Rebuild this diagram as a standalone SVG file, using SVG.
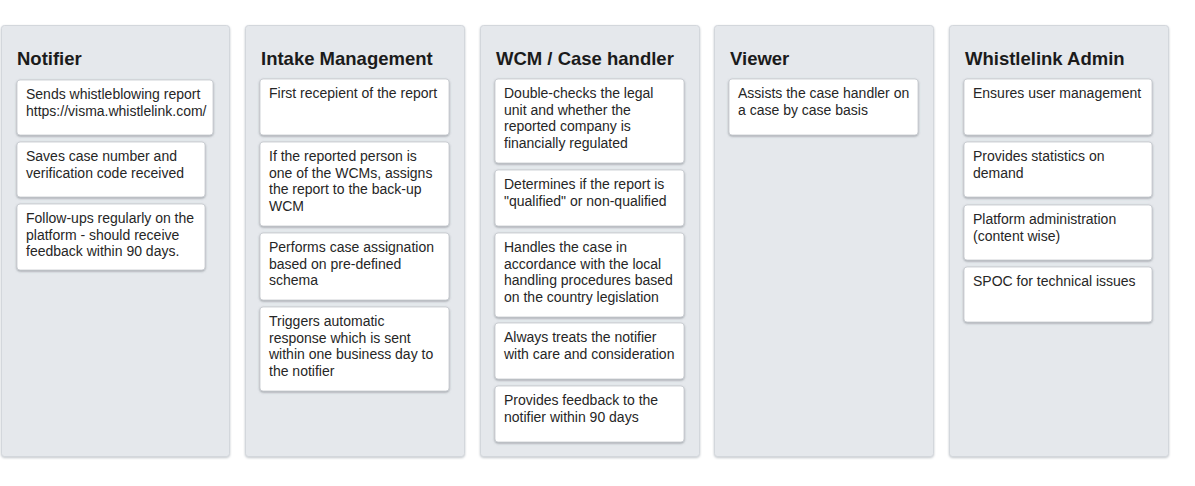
<svg xmlns="http://www.w3.org/2000/svg" width="1195" height="486" viewBox="0 0 1195 486">
<defs>
<filter id="sh" x="-5%" y="-10%" width="110%" height="130%">
<feDropShadow dx="0" dy="1" stdDeviation="1" flood-color="#5a5f66" flood-opacity="0.55"/>
</filter>
<filter id="psh" x="-5%" y="-5%" width="110%" height="110%">
<feDropShadow dx="0" dy="1" stdDeviation="0.8" flood-color="#9aa0a8" flood-opacity="0.6"/>
</filter>
</defs>
<style>
.panel{fill:#e5e8ec;stroke:#d3d7dc;stroke-width:1;filter:url(#psh)}
.card{fill:#ffffff;stroke:#c4c8cd;stroke-width:0.8;filter:url(#sh)}
.title{font-family:"Liberation Sans",Arial,sans-serif;font-weight:bold;font-size:18.5px;fill:#1b1b1b}
.txt{font-family:"Liberation Sans",Arial,sans-serif;font-size:14px;fill:#262626}
</style>
<rect width="1195" height="486" fill="#ffffff"/>
<g id="connectors"/>

<g id="col-notifier">
<rect class="panel" x="1.5" y="25.5" width="228" height="431" rx="3"/>
<text class="title" x="17" y="65">Notifier</text>
<g id="n1"><rect class="card" x="17" y="80" width="196" height="55" rx="3"/>
<text class="txt" x="26" y="99">Sends whistleblowing report</text>
<text class="txt" x="26" y="115.5">https://visma.whistlelink.com/</text></g>
<g id="n2"><rect class="card" x="17" y="142" width="188" height="55" rx="3"/>
<text class="txt" x="26" y="161">Saves case number and</text>
<text class="txt" x="26" y="177.5">verification code received</text></g>
<g id="n3"><rect class="card" x="17" y="204" width="188" height="66" rx="3"/>
<text class="txt" x="26" y="223">Follow-ups regularly on the</text>
<text class="txt" x="26" y="239.5">platform - should receive</text>
<text class="txt" x="26" y="256">feedback within 90 days.</text></g>
</g>

<g id="col-intake">
<rect class="panel" x="245.5" y="25.5" width="219" height="431" rx="3"/>
<text class="title" x="261" y="65">Intake Management</text>
<g id="i1"><rect class="card" x="260" y="79" width="189" height="56" rx="3"/>
<text class="txt" x="269" y="98">First recepient of the report</text></g>
<g id="i2"><rect class="card" x="260" y="142" width="189" height="84" rx="3"/>
<text class="txt" x="269" y="161">If the reported person is</text>
<text class="txt" x="269" y="177.5">one of the WCMs, assigns</text>
<text class="txt" x="269" y="194">the report to the back-up</text>
<text class="txt" x="269" y="210.5">WCM</text></g>
<g id="i3"><rect class="card" x="260" y="233" width="189" height="67" rx="3"/>
<text class="txt" x="269" y="252">Performs case assignation</text>
<text class="txt" x="269" y="268.5">based on pre-defined</text>
<text class="txt" x="269" y="285">schema</text></g>
<g id="i4"><rect class="card" x="260" y="307" width="189" height="84" rx="3"/>
<text class="txt" x="269" y="326">Triggers automatic</text>
<text class="txt" x="269" y="342.5">response which is sent</text>
<text class="txt" x="269" y="359">within one business day to</text>
<text class="txt" x="269" y="375.5">the notifier</text></g>
</g>

<g id="col-wcm">
<rect class="panel" x="480.5" y="25.5" width="219" height="431" rx="3"/>
<text class="title" x="496" y="65">WCM / Case handler</text>
<g id="w1"><rect class="card" x="495" y="79" width="189" height="84" rx="3"/>
<text class="txt" x="504" y="98">Double-checks the legal</text>
<text class="txt" x="504" y="114.5">unit and whether the</text>
<text class="txt" x="504" y="131">reported company is</text>
<text class="txt" x="504" y="147.5">financially regulated</text></g>
<g id="w2"><rect class="card" x="495" y="170" width="189" height="56" rx="3"/>
<text class="txt" x="504" y="189">Determines if the report is</text>
<text class="txt" x="504" y="205.5">"qualified" or non-qualified</text></g>
<g id="w3"><rect class="card" x="495" y="233" width="189" height="84" rx="3"/>
<text class="txt" x="504" y="252">Handles the case in</text>
<text class="txt" x="504" y="268.5">accordance with the local</text>
<text class="txt" x="504" y="285">handling procedures based</text>
<text class="txt" x="504" y="301.5">on the country legislation</text></g>
<g id="w4"><rect class="card" x="495" y="323" width="189" height="56" rx="3"/>
<text class="txt" x="504" y="342">Always treats the notifier</text>
<text class="txt" x="504" y="358.5">with care and consideration</text></g>
<g id="w5"><rect class="card" x="495" y="386" width="189" height="56" rx="3"/>
<text class="txt" x="504" y="405">Provides feedback to the</text>
<text class="txt" x="504" y="421.5">notifier within 90 days</text></g>
</g>

<g id="col-viewer">
<rect class="panel" x="714.5" y="25.5" width="219" height="431" rx="3"/>
<text class="title" x="730" y="65">Viewer</text>
<g id="v1"><rect class="card" x="729" y="79" width="189" height="56" rx="3"/>
<text class="txt" x="738" y="98">Assists the case handler on</text>
<text class="txt" x="738" y="114.5">a case by case basis</text></g>
</g>

<g id="col-admin">
<rect class="panel" x="949.5" y="25.5" width="219" height="431" rx="3"/>
<text class="title" x="965" y="65">Whistlelink Admin</text>
<g id="a1"><rect class="card" x="964" y="79" width="188" height="56" rx="3"/>
<text class="txt" x="973" y="98">Ensures user management</text></g>
<g id="a2"><rect class="card" x="964" y="142" width="188" height="55" rx="3"/>
<text class="txt" x="973" y="161">Provides statistics on</text>
<text class="txt" x="973" y="177.5">demand</text></g>
<g id="a3"><rect class="card" x="964" y="205" width="188" height="55" rx="3"/>
<text class="txt" x="973" y="224">Platform administration</text>
<text class="txt" x="973" y="240.5">(content wise)</text></g>
<g id="a4"><rect class="card" x="964" y="267" width="188" height="55" rx="3"/>
<text class="txt" x="973" y="286">SPOC for technical issues</text></g>
</g>
</svg>
